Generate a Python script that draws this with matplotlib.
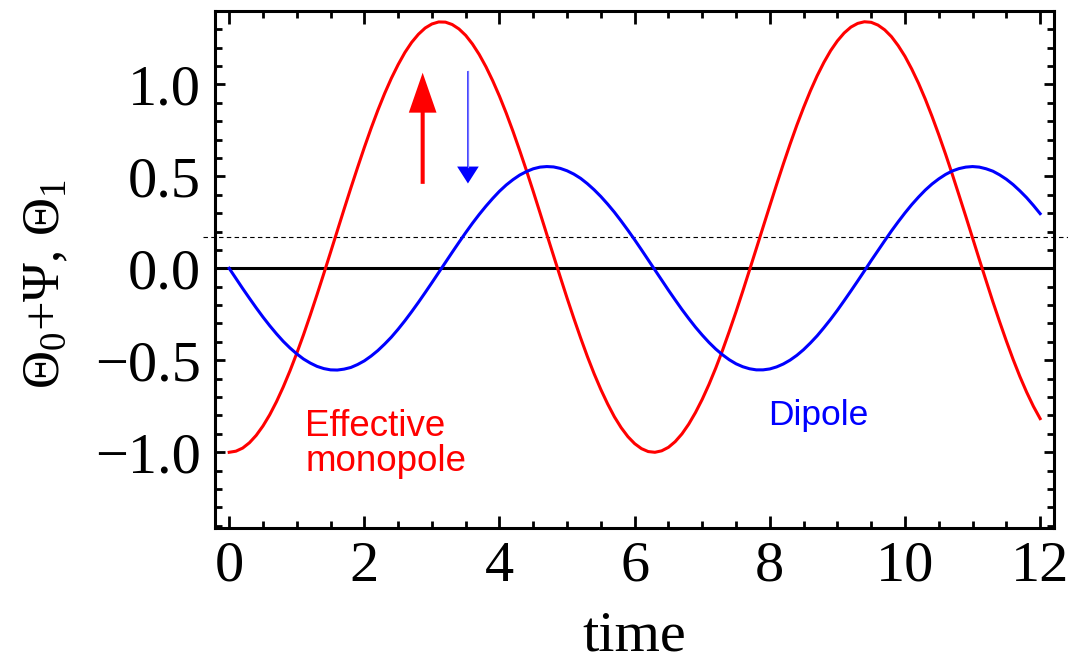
import matplotlib
matplotlib.use("Agg")
import matplotlib.pyplot as plt

# time samples and the two curves
time = [0.0, 0.1, 0.2, 0.3, 0.4, 0.5, 0.6, 0.7, 0.8, 0.9,
        1.0, 1.1, 1.2, 1.3, 1.4, 1.5, 1.6, 1.7, 1.8, 1.9,
        2.0, 2.1, 2.2, 2.3, 2.4, 2.5, 2.6, 2.7, 2.8, 2.9,
        3.0, 3.1, 3.2, 3.3, 3.4, 3.5, 3.6, 3.7, 3.8, 3.9,
        4.0, 4.1, 4.2, 4.3, 4.4, 4.5, 4.6, 4.7, 4.8, 4.9,
        5.0, 5.1, 5.2, 5.3, 5.4, 5.5, 5.6, 5.7, 5.8, 5.9,
        6.0, 6.1, 6.2, 6.3, 6.4, 6.5, 6.6, 6.7, 6.8, 6.9,
        7.0, 7.1, 7.2, 7.3, 7.4, 7.5, 7.6, 7.7, 7.8, 7.9,
        8.0, 8.1, 8.2, 8.3, 8.4, 8.5, 8.6, 8.7, 8.8, 8.9,
        9.0, 9.1, 9.2, 9.3, 9.4, 9.5, 9.6, 9.7, 9.8, 9.9,
        10.0, 10.1, 10.2, 10.3, 10.4, 10.5, 10.6, 10.7, 10.8, 10.9,
        11.0, 11.1, 11.2, 11.3, 11.4, 11.5, 11.6, 11.7, 11.8, 11.9,
        12.0]

monopole = [-1.000, -0.994, -0.977, -0.948, -0.908, -0.857, -0.796, -0.725, -0.645, -0.557,
            -0.462, -0.361, -0.254, -0.143, -0.029, 0.087, 0.204, 0.321, 0.436, 0.548,
            0.657, 0.761, 0.859, 0.950, 1.033, 1.107, 1.173, 1.228, 1.272, 1.306,
            1.328, 1.339, 1.338, 1.325, 1.301, 1.266, 1.219, 1.162, 1.095, 1.019,
            0.935, 0.843, 0.744, 0.639, 0.530, 0.417, 0.301, 0.184, 0.068, -0.048,
            -0.162, -0.272, -0.378, -0.479, -0.573, -0.659, -0.737, -0.807, -0.866, -0.915,
            -0.953, -0.980, -0.996, -1.000, -0.992, -0.973, -0.942, -0.900, -0.847, -0.784,
            -0.712, -0.631, -0.542, -0.446, -0.343, -0.236, -0.124, -0.009, 0.107, 0.224,
            0.340, 0.455, 0.567, 0.675, 0.778, 0.874, 0.964, 1.046, 1.119, 1.183,
            1.236, 1.279, 1.311, 1.331, 1.340, 1.337, 1.322, 1.296, 1.259, 1.210,
            1.152, 1.083, 1.006, 0.920, 0.826, 0.726, 0.621, 0.511, 0.397, 0.282,
            0.165, 0.048, -0.067, -0.181, -0.290, -0.395, -0.495, -0.588, -0.673, -0.750,
            -0.817]

dipole = [0.000, -0.055, -0.110, -0.163, -0.215, -0.265, -0.312, -0.356, -0.397, -0.433,
          -0.465, -0.493, -0.515, -0.533, -0.545, -0.552, -0.553, -0.548, -0.539, -0.523,
          -0.503, -0.477, -0.447, -0.412, -0.374, -0.331, -0.285, -0.236, -0.185, -0.132,
          -0.078, -0.023, 0.032, 0.087, 0.141, 0.194, 0.245, 0.293, 0.338, 0.380,
          0.419, 0.453, 0.482, 0.507, 0.526, 0.541, 0.550, 0.553, 0.551, 0.543,
          0.530, 0.512, 0.489, 0.460, 0.427, 0.390, 0.349, 0.305, 0.257, 0.207,
          0.155, 0.101, 0.046, -0.009, -0.064, -0.119, -0.172, -0.224, -0.273, -0.320,
          -0.363, -0.403, -0.439, -0.470, -0.497, -0.519, -0.535, -0.546, -0.552, -0.552,
          -0.547, -0.536, -0.520, -0.499, -0.473, -0.442, -0.406, -0.367, -0.323, -0.277,
          -0.228, -0.176, -0.123, -0.069, -0.014, 0.042, 0.096, 0.150, 0.203, 0.253,
          0.301, 0.346, 0.387, 0.425, 0.458, 0.486, 0.510, 0.529, 0.542, 0.550,
          0.553, 0.550, 0.541, 0.528, 0.508, 0.484, 0.455, 0.421, 0.384, 0.342,
          0.297]

offset_level = 0.172
xticks = [0, 2, 4, 6, 8, 10, 12]
yticks = [-1.0, -0.5, 0.0, 0.5, 1.0]

plt.rcParams["font.family"] = "Liberation Serif"
plt.rcParams["mathtext.fontset"] = "custom"
plt.rcParams["mathtext.rm"] = "Liberation Serif"
plt.rcParams["mathtext.it"] = "Liberation Serif:italic"
plt.rcParams["mathtext.bf"] = "Liberation Serif:bold"

fig = plt.figure(figsize=(10.68, 6.62), dpi=100)
ax = fig.add_axes([0.2013, 0.2020, 0.7859, 0.7818])

ax.plot(time, monopole, color="#ff0000", lw=2.2)
ax.plot(time, dipole, color="#0000ff", lw=2.2)

ax.axhline(0, color="black", lw=2.2, zorder=1)
ax.plot([-0.39, 12.6], [offset_level, offset_level], color="black", lw=0.8,
        dashes=(4, 3), clip_on=False, zorder=1)

# arrows: monopole pushed up, dipole pulled down
ax.arrow(2.863, 0.459, 0, 0.604, width=0.06, head_width=0.41, head_length=0.217,
         length_includes_head=True, color="#ff0000", lw=0)
ax.arrow(3.533, 1.072, 0, -0.611, width=0.02, head_width=0.32, head_length=0.092,
         length_includes_head=True, color="#0000ff", lw=0)
ax.plot([3.533, 3.533], [1.072, 0.55], color="#7777ff", lw=0.9)

ax.text(1.125, -1.103, "Effective\nmonopole", color="#ff0000", fontsize=26.5,
        family="Liberation Sans", ha="left", va="baseline", linespacing=1.0)
ax.text(7.98, -0.85, "Dipole", color="#0000ff", fontsize=25.5,
        family="Liberation Sans", ha="left", va="baseline")

ax.set_xlim(-0.21, 12.21)
ax.set_ylim(-1.413, 1.394)
ax.set_xticks(xticks)
ax.set_xticklabels([str(v) for v in xticks])
ax.set_yticks(yticks)
ax.set_yticklabels(["\u22121.0", "\u22120.5", "0.0", "0.5", "1.0"])
ax.set_xticks([x * 0.5 for x in range(25)], minor=True)
ax.set_yticks([y * 0.1 - 1.4 for y in range(29)], minor=True)

ax.tick_params(which="both", direction="in", top=True, right=True,
               labelsize=42, width=2.0, color="black")
ax.tick_params(axis="x", which="major", length=9, pad=9)
ax.tick_params(axis="y", which="major", length=7.5, pad=10)
ax.tick_params(which="minor", length=5)
for s in ax.spines.values():
    s.set_linewidth(2.2)

ax.set_xlabel("time", fontsize=42, labelpad=13)
ax.set_ylabel("$\\Theta_0$+\u03a8, $\\Theta_1$", fontsize=38)
ax.yaxis.set_label_coords(-0.172, 0.472)

fig.savefig("out.png", dpi=100)
